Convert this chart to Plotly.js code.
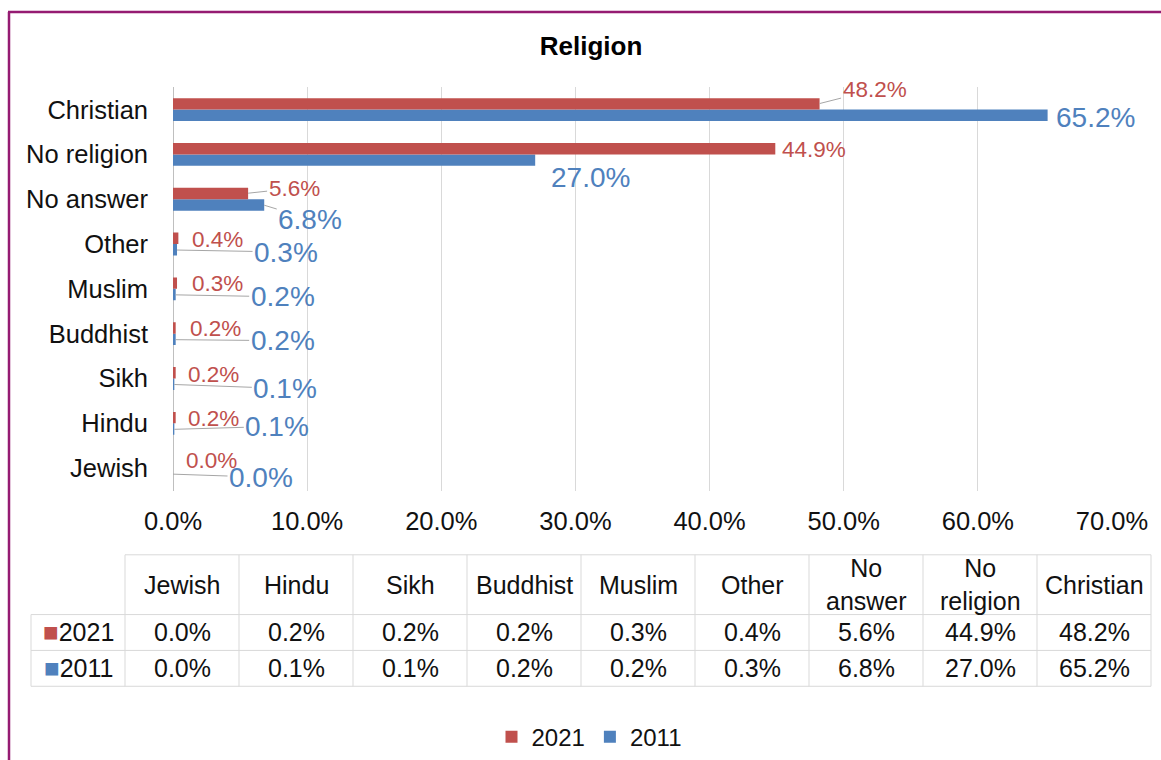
<!DOCTYPE html>
<html>
<head>
<meta charset="utf-8">
<script src="https://cdn.plot.ly/plotly-3.0.1.min.js"></script>
<style>html,body{margin:0;padding:0;background:#fff;}#chart{width:1161px;height:760px;}</style>
</head>
<body>
<div id="chart"></div>
<script>
// ---- data ----
const categories = ['Jewish','Hindu','Sikh','Buddhist','Muslim','Other','No answer','No religion','Christian'];
const tableHeaders = ['Jewish','Hindu','Sikh','Buddhist','Muslim','Other','No<br>answer','No<br>religion','Christian'];
const values2021 = [0.0, 0.2, 0.2, 0.2, 0.3, 0.4, 5.6, 44.9, 48.2];
const values2011 = [0.0, 0.1, 0.1, 0.2, 0.2, 0.3, 6.8, 27.0, 65.2];
const seriesNames = ['2021', '2011'];
const xTicks = [0, 10, 20, 30, 40, 50, 60, 70];
const xTickText = ['0.0%', '10.0%', '20.0%', '30.0%', '40.0%', '50.0%', '60.0%', '70.0%'];

// ---- styles ----
const W = 1161, H = 760;
const RED = '#c0504d', BLUE = '#4f81bd';
const FONT = 'Liberation Sans, Arial, sans-serif';
const X = px => px / W;
const Y = py => 1 - py / H;

// label placement (style only): per category index
const redLab = [
  {xs:11, ys:8}, {xs:10, ys:5}, {xs:10, ys:4}, {xs:12, ys:5}, {xs:13, ys:5}, {xs:12, ys:5},
  {arrow:true, ys:6, ax:46, ay:-5}, {xs:5, ys:5}, {arrow:true, ys:6, ax:55, ay:-14}
];
const blueLab = [
  {arrow:true, ys:-6, ax:88, ay:3}, {arrow:true, ys:-6, ax:103, ay:-3}, {arrow:true, ys:-6, ax:111, ay:4},
  {arrow:true, ys:-6, ax:107, ay:1}, {arrow:true, ys:-6, ax:107, ay:2}, {arrow:true, ys:-6, ax:109, ay:2},
  {arrow:true, ys:-6, ax:46, ay:14}, {xs:14, ys:-23}, {xs:6, ys:-8}
];

const fmt = v => v.toFixed(1) + '%';

const traces = [
  {type:'bar', orientation:'h', name:seriesNames[1], x:values2011, y:categories,
   marker:{color:BLUE}, hoverinfo:'skip'},
  {type:'bar', orientation:'h', name:seriesNames[0], x:values2021, y:categories,
   marker:{color:RED}, hoverinfo:'skip'}
];

const annotations = [];
function addLabel(val, cat, cfg, color, size) {
  const a = {x:val, y:cat, xref:'x', yref:'y', text:fmt(val),
    font:{family:FONT, size:size, color:color}, yshift:cfg.ys};
  if (cfg.arrow) {
    Object.assign(a, {showarrow:true, ax:cfg.ax, ay:cfg.ay, arrowhead:0, arrowwidth:1,
      arrowcolor:'#a6a6a6', standoff:0, startstandoff:0});
  } else {
    Object.assign(a, {showarrow:false, xanchor:'left', yanchor:'middle', xshift:cfg.xs});
  }
  annotations.push(a);
}
categories.forEach((c, i) => {
  addLabel(values2021[i], c, redLab[i], RED, 22.5);
  addLabel(values2011[i], c, blueLab[i], BLUE, 28);
});

// ---- data table (built from the arrays) ----
const tLeft = 31, col0W = 94, colW = 114, headTop = 557, headH = 60, rowH = 36;
const gridC = '#d9d9d9';
const shapes = [];
const colEdges = [tLeft, tLeft + col0W];
for (let i = 0; i < categories.length; i++) colEdges.push(colEdges[colEdges.length - 1] + colW);
const tRight = colEdges[colEdges.length - 1];
const rowTop = headTop + headH, tBottom = rowTop + 2 * rowH;
function hline(x0, x1, y) {
  shapes.push({type:'line', xref:'paper', yref:'paper', x0:X(x0), x1:X(x1), y0:Y(y), y1:Y(y),
    line:{color:gridC, width:1}, layer:'below'});
}
function vline(x, y0, y1) {
  shapes.push({type:'line', xref:'paper', yref:'paper', x0:X(x), x1:X(x), y0:Y(y0), y1:Y(y1),
    line:{color:gridC, width:1}, layer:'below'});
}
hline(colEdges[1], tRight, headTop);
hline(tLeft, tRight, rowTop);
hline(tLeft, tRight, rowTop + rowH);
hline(tLeft, tRight, tBottom);
vline(tLeft, rowTop, tBottom);
for (let i = 1; i < colEdges.length; i++) vline(colEdges[i], headTop, tBottom);

const tFont = {family:FONT, size:25, color:'#111'};
tableHeaders.forEach((h, i) => {
  const cx = (colEdges[i + 1] + colEdges[i + 2]) / 2;
  annotations.push({xref:'paper', yref:'paper', x:X(cx), y:Y(headTop + headH / 2), text:h,
    showarrow:false, xanchor:'center', yanchor:'middle', font:tFont});
  annotations.push({xref:'paper', yref:'paper', x:X(cx), y:Y(rowTop + rowH / 2), text:fmt(values2021[i]),
    showarrow:false, xanchor:'center', yanchor:'middle', font:tFont});
  annotations.push({xref:'paper', yref:'paper', x:X(cx), y:Y(rowTop + rowH * 1.5), text:fmt(values2011[i]),
    showarrow:false, xanchor:'center', yanchor:'middle', font:tFont});
});
[[seriesNames[0], RED], [seriesNames[1], BLUE]].forEach((s, r) => {
  annotations.push({xref:'paper', yref:'paper', x:X(tLeft + col0W / 2), y:Y(rowTop + rowH * (r + 0.5)),
    text:'<span style="color:' + s[1] + ';font-size:26px">■</span>' + s[0],
    showarrow:false, xanchor:'center', yanchor:'middle', font:tFont});
});

// frame border
shapes.push({type:'line', xref:'paper', yref:'paper', x0:X(8), x1:1.01, y0:Y(12), y1:Y(12),
  line:{color:'#951b72', width:2.5}});
shapes.push({type:'line', xref:'paper', yref:'paper', x0:X(9), x1:X(9), y0:Y(12), y1:-0.01,
  line:{color:'#951b72', width:2.5}});

const layout = {
  width:W, height:H,
  margin:{l:0, r:0, t:0, b:0},
  paper_bgcolor:'#fff', plot_bgcolor:'#fff',
  font:{family:FONT, size:25, color:'#111'},
  title:{text:'<b>Religion</b>', x:X(591), y:Y(46), xref:'paper', yref:'paper',
    xanchor:'center', yanchor:'middle', font:{family:FONT, size:26, color:'#000'}},
  barmode:'group', bargap:0.49, bargroupgap:0,
  xaxis:{domain:[X(173), X(1112)], range:[0, 70], autorange:false, tickvals:xTicks, ticktext:xTickText,
    showgrid:true, gridcolor:'#d9d9d9', gridwidth:1, zeroline:true, zerolinecolor:'#bfbfbf', zerolinewidth:1,
    showline:false, ticks:'', tickfont:{family:FONT, size:25.5, color:'#111'}, ticklabelstandoff:13,
    automargin:false, fixedrange:true},
  yaxis:{domain:[Y(492.5), Y(87.5)], type:'category', categoryorder:'array', categoryarray:categories,
    range:[-0.5, categories.length - 0.5], autorange:false,
    showgrid:false, zeroline:false, showline:false, ticks:'', tickfont:{family:FONT, size:25.5, color:'#111'},
    ticklabelstandoff:24, automargin:false, fixedrange:true},
  showlegend:true,
  legend:{orientation:'h', x:X(589), xanchor:'center', y:Y(740), yanchor:'middle', traceorder:'reversed',
    font:{family:FONT, size:24, color:'#111'}, itemwidth:30, bgcolor:'rgba(0,0,0,0)'},
  annotations:annotations,
  shapes:shapes
};

Plotly.newPlot('chart', traces, layout, {staticPlot:true, displayModeBar:false});
</script>
</body>
</html>
